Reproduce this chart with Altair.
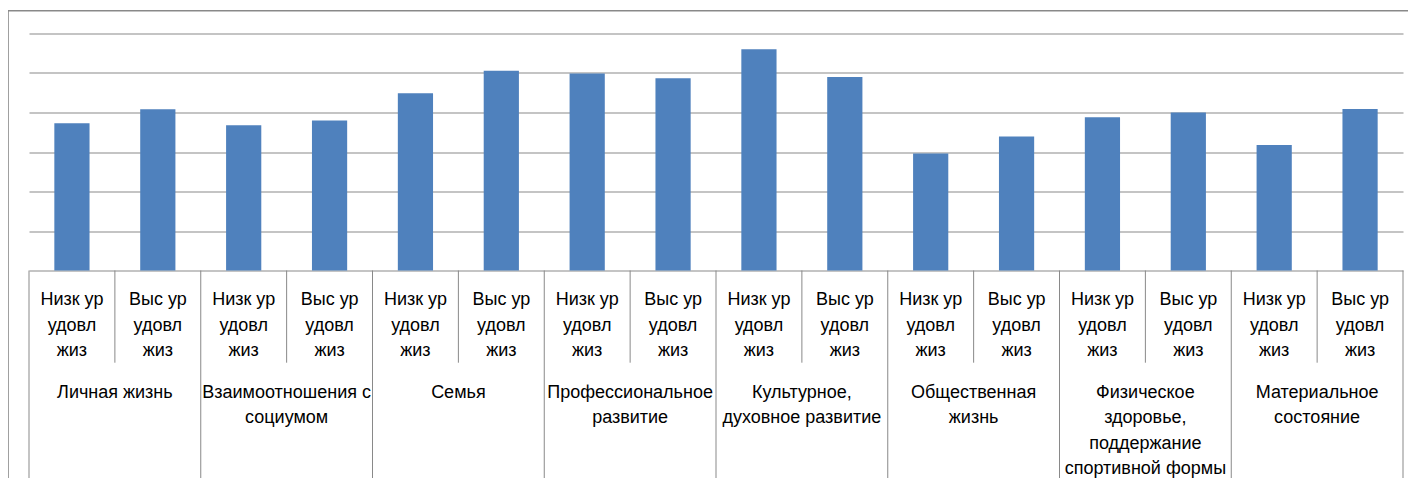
import altair as alt
import pandas as pd

groups = [
    "Личная жизнь",
    "Взаимоотношения с\nсоциумом",
    "Семья",
    "Профессиональное\nразвитие",
    "Культурное,\nдуховное развитие",
    "Общественная\nжизнь",
    "Физическое\nздоровье,\nподдержание\nспортивной формы",
    "Материальное\nсостояние",
]
levels = ["Низк ур\nудовл\nжиз", "Выс ур\nудовл\nжиз"]
low_values = [3.73, 3.68, 4.49, 4.99, 5.60, 2.96, 3.88, 3.18]
high_values = [4.08, 3.80, 5.06, 4.87, 4.90, 3.39, 4.00, 4.09]

rows = []
for gi, g in enumerate(groups):
    for li, (lv, vals) in enumerate(zip(levels, [low_values, high_values])):
        rows.append({
            "key": f"{gi:02d}-{li}",
            "group": g,
            "level": lv,
            "li": li,
            "last": gi == len(groups) - 1 and li == 1,
            "value": vals[gi],
        })
df = pd.DataFrame(rows)
keys = list(df["key"])

W, H = 1374, 237
PAD = {"left": 21, "top": 25.5, "right": 5, "bottom": 207}
LINE = "#898989"

xenc = alt.X("key:N", sort=keys, axis=None,
             scale=alt.Scale(paddingInner=0, paddingOuter=0))

base = alt.Chart(df)

bars = base.mark_bar(color="#4F81BD", width=alt.RelativeBandSize(0.41)).encode(
    x=xenc,
    y=alt.Y("value:Q", scale=alt.Scale(domain=[0, 6], nice=False),
            axis=alt.Axis(values=[0, 1, 2, 3, 4, 5, 6], labels=False, ticks=False,
                          domain=False, grid=True, gridColor=LINE, gridWidth=1,
                          title=None)),
)

item_text = base.mark_text(
    font="Liberation Sans", fontSize=18, color="#000000",
    lineBreak="\n", lineHeight=25.5, align="center", baseline="alphabetic",
).encode(x=xenc, y=alt.value(271.5), text="level:N")

group_text = base.transform_filter("datum.li == 0").mark_text(
    font="Liberation Sans", fontSize=18, color="#000000",
    lineBreak="\n", lineHeight=25.5, align="center", baseline="alphabetic",
).encode(x=alt.X("key:N", sort=keys, axis=None, bandPosition=1),
         y=alt.value(364), text="group:N")

short_div = base.transform_filter("datum.li == 1").mark_rule(
    color=LINE, strokeWidth=1).encode(
    x=alt.X("key:N", sort=keys, axis=None, bandPosition=0),
    y=alt.value(H), y2=alt.value(329.2))

long_div = base.transform_filter("datum.li == 0").mark_rule(
    color=LINE, strokeWidth=1).encode(
    x=alt.X("key:N", sort=keys, axis=None, bandPosition=0),
    y=alt.value(H), y2=alt.value(H + 260))

right_edge = base.transform_filter("datum.last").mark_rule(
    color=LINE, strokeWidth=1).encode(
    x=alt.X("key:N", sort=keys, axis=None, bandPosition=1),
    y=alt.value(H), y2=alt.value(H + 260))

frame = alt.Chart(pd.DataFrame({"a": [0]})).mark_rect(
    fill=None, stroke=LINE, strokeWidth=1.6).encode(
    x=alt.value(-21), x2=alt.value(W + 40),
    y=alt.value(-22.8), y2=alt.value(H + 260))

chart = alt.layer(frame, bars, short_div, long_div, right_edge, item_text, group_text).properties(
    width=W, height=H,
    autosize=alt.AutoSizeParams(type="none"),
    padding=PAD,
    background="white",
).configure_view(stroke=None)

chart.save("out.html", embed_options={"renderer": "svg", "actions": False})
